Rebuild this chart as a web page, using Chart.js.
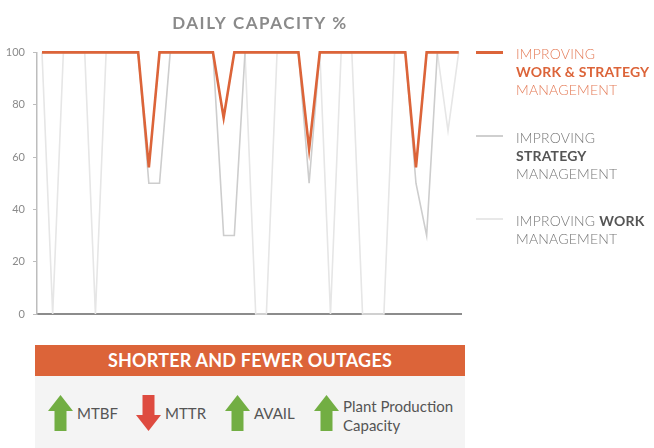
<!DOCTYPE html>
<html>
<head>
<meta charset="utf-8">
<script src="https://cdn.jsdelivr.net/npm/chart.js@4"></script>
<style>
  html, body { margin: 0; padding: 0; background: #fff; }
  body { width: 654px; height: 448px; position: relative; overflow: hidden; font-family: Lato, "Open Sans", sans-serif; }
  #wrap { position: absolute; left: 0; top: 0; width: 520px; height: 330px; }
  .leg { position: absolute; left: 476px; }
  .leg .swatch { position: absolute; left: 0; width: 27px; }
  .leg .txt { position: absolute; left: 40px; width: 160px; font-size: 14px; line-height: 18px; font-weight: 300; letter-spacing: 0.2px; white-space: nowrap; }
  .leg .txt b { font-weight: 700; }
  #panelHead { position: absolute; left: 35px; top: 345px; width: 430px; height: 31px; background: #dc6439; color: #fff; font-weight: 700; font-size: 18px; line-height: 31px; text-align: center; letter-spacing: 0.2px; }
  #panel { position: absolute; left: 35px; top: 376px; width: 430px; height: 72px; background: #f4f4f4; }
  .item { position: absolute; top: 19px; }
  .item svg { position: absolute; left: 0; top: 0; }
  .item span { position: absolute; top: 0; height: 36px; display: flex; align-items: center; color: #555; font-size: 15px; line-height: 19px; white-space: nowrap; }
</style>
</head>
<body>
<div id="wrap"><canvas id="chart"></canvas></div>

<div class="leg" style="top:51px">
  <div class="swatch" style="top:0;height:3px;background:#dc6439"></div>
  <div class="txt" style="top:-6px;color:#e47b57">IMPROVING<br><b style="color:#dc6439">WORK &amp; STRATEGY</b><br>MANAGEMENT</div>
</div>
<div class="leg" style="top:135px">
  <div class="swatch" style="top:0;height:2px;background:#cfcfcf"></div>
  <div class="txt" style="top:-6px;color:#777">IMPROVING<br><b style="color:#555">STRATEGY</b><br>MANAGEMENT</div>
</div>
<div class="leg" style="top:218px">
  <div class="swatch" style="top:0;height:2px;background:#e8e8e8"></div>
  <div class="txt" style="top:-6px;color:#777">IMPROVING <b style="color:#555">WORK</b><br>MANAGEMENT</div>
</div>

<div id="panelHead">SHORTER AND FEWER OUTAGES</div>
<div id="panel"></div>

<script>
// valores (40 dias)
const days = [1, 2, 3, 4, 5, 6, 7, 8, 9, 10, 11, 12, 13, 14, 15, 16, 17, 18, 19, 20,
              21, 22, 23, 24, 25, 26, 27, 28, 29, 30, 31, 32, 33, 34, 35, 36, 37, 38, 39, 40];
const workStrategy = [100, 100, 100, 100, 100, 100, 100, 100, 100, 100, 56, 100, 100, 100, 100, 100, 100, 75, 100, 100,
                      100, 100, 100, 100, 100, 63, 100, 100, 100, 100, 100, 100, 100, 100, 100, 56, 100, 100, 100, 100];
const strategyOnly = [100, 100, 100, 100, 100, 100, 100, 100, 100, 100, 50, 50, 100, 100, 100, 100, 100, 30, 30, 100,
                      100, 100, 100, 100, 100, 50, 100, 100, 100, 100, 100, 100, 100, 100, 100, 50, 30, 100, 100, 100];
const workOnly = [100, 0, 100, 100, 100, 0, 100, 100, 100, 100, 56, 100, 100, 100, 100, 100, 100, 75, 100, 100,
                  0, 0, 100, 100, 100, 63, 100, 0, 100, 100, 0, 0, 0, 100, 100, 56, 100, 100, 70, 100];
const yTicks = [0, 20, 40, 60, 80, 100];

const metrics = [
  { label: "MTBF", dir: "up" },
  { label: "MTTR", dir: "down" },
  { label: "AVAIL", dir: "up" },
  { label: "Plant Production<br>Capacity", dir: "up" }
];
const metricX = [13, 101, 190, 279];

// panel inferior con flechas
const panel = document.getElementById("panel");
metrics.forEach((m, i) => {
  const d = document.createElement("div");
  d.className = "item";
  d.style.left = metricX[i] + "px";
  const pts = m.dir === "up"
    ? "12.5,0 25,16 18.5,16 18.5,36 6.5,36 6.5,16 0,16"
    : "6.5,0 18.5,0 18.5,20 25,20 12.5,36 0,20 6.5,20";
  const col = m.dir === "up" ? "#72ae43" : "#de4b40";
  const top = i === 3 ? 3 : 0;
  d.innerHTML = `<svg width="25" height="36"><polygon points="${pts}" fill="${col}"/></svg><span style="left:29px;top:${top}px">${m.label}</span>`;
  panel.appendChild(d);
});

const toXY = arr => arr.map((v, i) => ({ x: days[i], y: v }));

const chart = new Chart(document.getElementById("chart"), {
  type: "line",
  data: {
    datasets: [
      { label: "Improving Work & Strategy Management", data: toXY(workStrategy), borderColor: "#dc6439", borderWidth: 2.6, pointRadius: 0, tension: 0, clip: 6 },
      { label: "Improving Strategy Management", data: toXY(strategyOnly), borderColor: "#cdcdcd", borderWidth: 1.6, pointRadius: 0, tension: 0, clip: 6 },
      { label: "Improving Work Management", data: toXY(workOnly), borderColor: "#e6e6e6", borderWidth: 1.6, pointRadius: 0, tension: 0, clip: 6 }
    ]
  },
  options: {
    responsive: true,
    maintainAspectRatio: false,
    animation: false,
    layout: { padding: 0 },
    plugins: {
      legend: { display: false },
      tooltip: { enabled: false },
      title: {
        display: true,
        text: "DAILY CAPACITY %",
        color: "#8a8a8a",
        font: { family: "Lato", size: 17, weight: "bold" },
        padding: { top: 13, bottom: 19 }
      }
    },
    scales: {
      x: {
        type: "linear",
        min: 0.532,
        max: 40.215,
        grid: { display: false, drawTicks: false },
        ticks: { display: false },
        border: { display: true, color: "#8c8c8c", width: 2 },
        afterFit: s => { s.height = 16; }
      },
      y: {
        min: 0,
        max: 100,
        afterBuildTicks: s => { s.ticks = yTicks.map(v => ({ value: v })); },
        grid: { drawOnChartArea: false, drawTicks: true, tickLength: 4, color: "#bdbdbd" },
        border: { display: true, color: "#bdbdbd", width: 1.5 },
        ticks: { color: "#8a8a8a", padding: 8, font: { family: "Lato", size: 11 } },
        afterFit: s => { s.width = 37; }
      },
      yR: {
        position: "right",
        display: true,
        grid: { display: false, drawTicks: false },
        ticks: { display: false },
        border: { display: false },
        afterFit: s => { s.width = 59; }
      }
    }
  }
});

// espaciado de letras solo en el titulo
const origTitleDraw = chart.titleBlock.draw;
chart.titleBlock.draw = function () {
  const ctx = this.ctx;
  ctx.save();
  ctx.letterSpacing = "1.5px";
  origTitleDraw.call(this);
  ctx.restore();
};
chart.draw();
</script>
</body>
</html>
